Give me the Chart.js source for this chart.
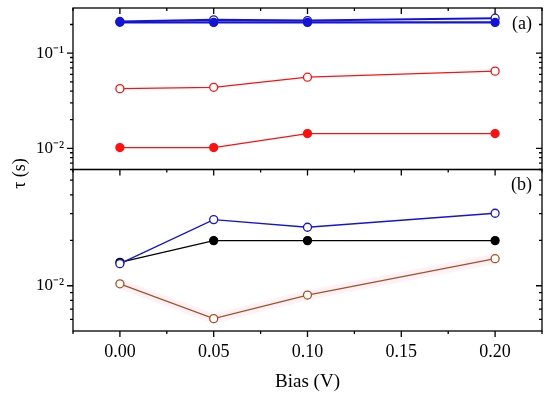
<!DOCTYPE html>
<html>
<head>
<meta charset="utf-8">
<script src="https://cdn.jsdelivr.net/npm/chart.js@4/dist/chart.umd.min.js"></script>
<style>
  html, body { margin: 0; padding: 0; background: #fff; }
  #wrap { width: 550px; height: 399px; }
</style>
</head>
<body>
<div id="wrap"><canvas id="c" width="550" height="399"></canvas></div>
<script>
// ---- data ----
const bias = [0.00, 0.05, 0.10, 0.20];
// panel (a)
const aBlueFilled = [0.211, 0.210, 0.210, 0.210];
const aBlueOpen   = [0.215, 0.224, 0.220, 0.233];
const aRedOpen    = [0.0424, 0.0438, 0.0559, 0.0647];
const aRedFilled  = [0.0102, 0.0102, 0.0143, 0.0143];
// panel (b)
const bBlueOpen    = [0.0140, 0.0274, 0.0244, 0.0302];
const bBlackFilled = [0.0143, 0.0199, 0.0199, 0.0199];
const bBrownOpen   = [0.0103, 0.00606, 0.00868, 0.0151];
// ticks
const xTicks = [0.00, 0.05, 0.10, 0.15, 0.20];
const aMajorTicks = [0.01, 0.1];
const bMajorTicks = [0.01];
const panelLabels = ['(a)', '(b)'];
const xTitle = 'Bias (V)';
const yTitle = 'τ (s)';

const FONT = "'Liberation Serif', 'Times New Roman', serif";
const BLUE = '#1414d6', RED = '#ff1010', BROWN = '#a8501e', BLACK = '#000000';

function pts(vals) { return bias.map((b, i) => ({x: b, y: vals[i]})); }
function ds(label, vals, axis, color, filled, width) {
  return {
    label, data: pts(vals), yAxisID: axis,
    borderColor: color, backgroundColor: filled ? color : '#ffffff',
    borderWidth: width || 1.3,
    pointRadius: 4, pointBorderWidth: 1.3, pointHoverRadius: 4,
    pointBackgroundColor: filled ? color : '#ffffff', pointBorderColor: color,
    fill: false, tension: 0
  };
}
function supLabel(v) {
  const e = Math.round(Math.log10(v));
  const map = {'-': '⁻', '0': '⁰', '1': '¹', '2': '²', '3': '³', '4': '⁴', '5': '⁵', '6': '⁶', '7': '⁷', '8': '⁸', '9': '⁹'};
  return '10' + String(e).split('').map(c => map[c]).join('');
}

const framePlugin = {
  id: 'frame',
  afterDraw(chart) {
    const ctx = chart.ctx;
    const x = chart.scales.x, yA = chart.scales.yA, yB = chart.scales.yB;
    ctx.save();
    ctx.strokeStyle = '#000';
    ctx.lineWidth = 1.3;
    const L = x.left, R = x.right;
    [yA, yB].forEach(s => ctx.strokeRect(L, s.top, R - L, s.bottom - s.top));
    ctx.beginPath();
    // x ticks
    const xMinor = [];
    for (let i = 0; i < xTicks.length - 1; i++) xMinor.push((xTicks[i] + xTicks[i + 1]) / 2);
    xMinor.push(xTicks[0] - 0.025, xTicks[xTicks.length - 1] + 0.025);
    const xt = (v, len) => {
      const px = x.getPixelForValue(v);
      if (px < L - 0.5 || px > R + 0.5) return;
      ctx.moveTo(px, yA.top); ctx.lineTo(px, yA.top + len);
      ctx.moveTo(px, yB.top); ctx.lineTo(px, yB.top + len);
      ctx.moveTo(px, yB.bottom); ctx.lineTo(px, yB.bottom + len);
    };
    xTicks.forEach(v => xt(v, 6));
    xMinor.forEach(v => xt(v, 3));
    // y ticks
    [yA, yB].forEach(s => {
      const lo = Math.floor(Math.log10(s.min)), hi = Math.ceil(Math.log10(s.max));
      for (let e = lo; e <= hi; e++) {
        for (let m = 1; m <= 9; m++) {
          const v = m * Math.pow(10, e);
          if (v < s.min || v > s.max) continue;
          const py = s.getPixelForValue(v);
          const len = m === 1 ? 6 : 3;
          ctx.moveTo(L, py); ctx.lineTo(L - len, py);
          ctx.moveTo(R, py); ctx.lineTo(R - len, py);
        }
      }
    });
    ctx.stroke();
    // texts
    ctx.fillStyle = '#000';
    ctx.font = '18px ' + FONT;
    ctx.textAlign = 'right';
    ctx.textBaseline = 'middle';
    ctx.fillText(panelLabels[0], R - 10, yA.top + 16);
    ctx.fillText(panelLabels[1], R - 10, yB.top + 16);
    ctx.save();
    ctx.translate(20, (yA.top + yB.bottom) / 2 + 4);
    ctx.rotate(-Math.PI / 2);
    ctx.textAlign = 'center';
    ctx.fillText(yTitle, 0, 0);
    ctx.restore();
    ctx.restore();
  }
};

const yCommon = (major, min, max) => ({
  type: 'logarithmic', position: 'left', stack: 'panels', stackWeight: 1,
  min, max,
  grid: { display: false, drawTicks: false },
  border: { display: false },
  ticks: {
    padding: 9, color: '#000', font: { family: FONT, size: 17 },
    autoSkip: false, callback: (v) => supLabel(v)
  },
  afterBuildTicks: (s) => { s.ticks = major.map(v => ({value: v, major: true})); },
  afterFit: (s) => { s.width = 73; s.paddingTop = 0; s.paddingBottom = 0; }
});

new Chart(document.getElementById('c'), {
  type: 'line',
  data: {
    datasets: [
      ds('a blue filled', aBlueFilled, 'yA', BLUE, true, 2.2),
      ds('a blue open', aBlueOpen, 'yA', BLUE, false, 2),
      ds('a red open', aRedOpen, 'yA', RED, false),
      ds('a red filled', aRedFilled, 'yA', RED, true),
      ds('b blue open', bBlueOpen, 'yB', BLUE, false),
      ds('b black filled', bBlackFilled, 'yB', BLACK, true),
      ds('b brown open', bBrownOpen, 'yB', BROWN, false),
      { label: 'halo', data: pts(bBrownOpen), yAxisID: 'yB', borderColor: 'rgba(255,120,190,0.10)',
        borderWidth: 10, pointRadius: 0, fill: false, tension: 0 }
    ]
  },
  options: {
    responsive: false, animation: false, maintainAspectRatio: false,
    layout: { padding: { top: 8, right: 8, left: 0, bottom: 0 } },
    plugins: { legend: { display: false }, tooltip: { enabled: false } },
    scales: {
      x: {
        type: 'linear', position: 'bottom', min: -0.025, max: 0.225,
        grid: { display: false, drawTicks: false },
        border: { display: false },
        ticks: { padding: 10, color: '#000', font: { family: FONT, size: 18 },
                 autoSkip: false, includeBounds: false, callback: (v) => Number(v).toFixed(2) },
        afterBuildTicks: (s) => { s.ticks = xTicks.map(v => ({value: v})); },
        title: { display: true, text: xTitle, color: '#000', font: { family: FONT, size: 19 }, padding: { top: 4, bottom: 6 } },
        afterFit: (s) => { s.height = 68; s.paddingLeft = 0; s.paddingRight = 0; }
      },
      yB: yCommon(bMajorTicks, 0.00502, 0.0588),
      yA: yCommon(aMajorTicks, 0.006, 0.298)
    }
  },
  plugins: [framePlugin]
});
</script>
</body>
</html>
